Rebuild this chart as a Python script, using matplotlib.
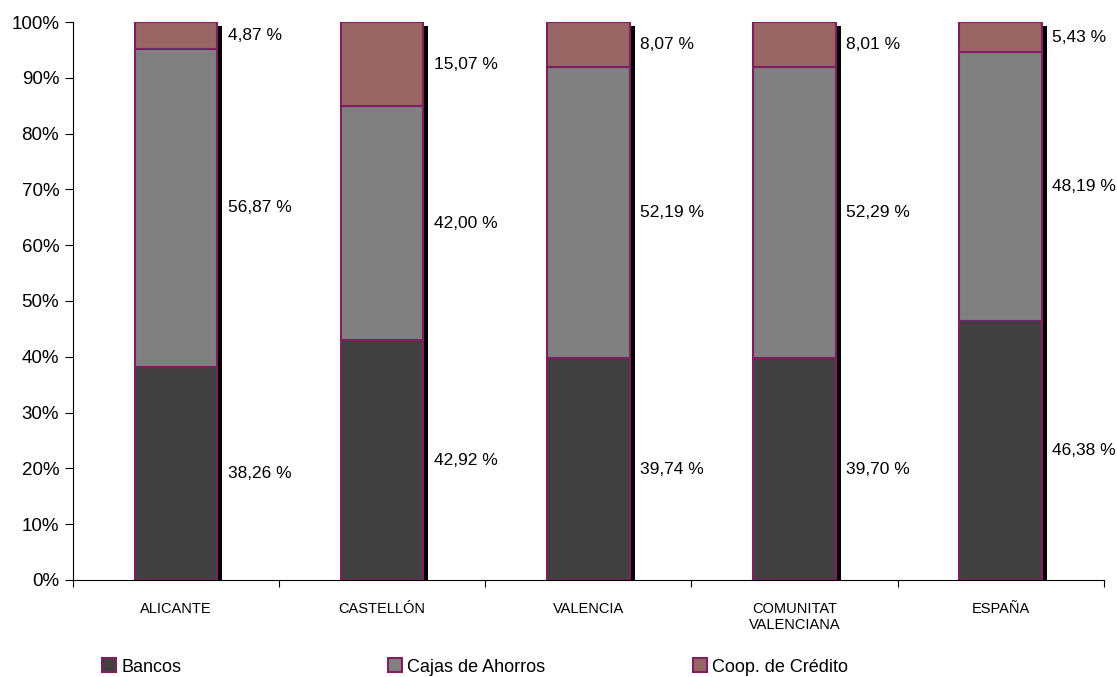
import numpy as np
import matplotlib.pyplot as plt
from matplotlib.patches import Patch
from matplotlib.ticker import FixedLocator, NullFormatter, FuncFormatter

plt.rcParams['font.family'] = ['Liberation Sans', 'DejaVu Sans']

categories = ['ALICANTE', 'CASTELLÓN', 'VALENCIA', 'COMUNITAT\nVALENCIANA', 'ESPAÑA']
series_names = ['Bancos', 'Cajas de Ahorros', 'Coop. de Crédito']
bancos = [38.26, 42.92, 39.74, 39.70, 46.38]
cajas = [56.87, 42.00, 52.19, 52.29, 48.19]
coop = [4.87, 15.07, 8.07, 8.01, 5.43]

colors = ['#404040', '#808080', '#996666']
edge = '#7f1f60'

fig = plt.figure(figsize=(11.17, 6.77), dpi=100)
ax = fig.add_axes([0.0654, 0.1433, 0.9227, 0.8242])

x = np.arange(len(categories))
width = 0.4

# shadow strip on the right of each bar
ax.bar(x + width / 2 + 0.012, 99.2, width=0.024, color='black', zorder=1)

bottom = np.zeros(len(categories))
for vals, name, col in zip([bancos, cajas, coop], series_names, colors):
    vals = np.array(vals)
    ax.bar(x, vals, width=width, bottom=bottom, color=col, edgecolor=edge,
           linewidth=1.5, label=name, zorder=2)
    for xi, b, v in zip(x, bottom, vals):
        ax.text(xi + width / 2 + 0.05, b + v / 2, f"{v:.2f} %".replace('.', ','),
                va='center', ha='left', fontsize=12.5)
    bottom += vals

ax.set_xlim(-0.5, 4.5)
ax.set_ylim(0, 100)
ax.set_yticks(np.arange(0, 101, 10))
ax.yaxis.set_major_formatter(FuncFormatter(lambda v, p: f"{int(v)}%"))
ax.tick_params(axis='y', labelsize=13.5, length=6, pad=4, direction='out')

ax.xaxis.set_major_locator(FixedLocator(np.arange(-0.5, 5, 1)))
ax.xaxis.set_major_formatter(NullFormatter())
ax.xaxis.set_minor_locator(FixedLocator(x))
ax.set_xticklabels(categories, minor=True)
ax.tick_params(axis='x', which='major', length=5, direction='out')
ax.tick_params(axis='x', which='minor', length=0, pad=16, labelsize=10.5)

for s in ['top', 'right']:
    ax.spines[s].set_visible(False)

# legend entries spread along the bottom, one legend per entry
legend_x = [0.0913, 0.347, 0.620]
for name, col, lx in zip(series_names, colors, legend_x):
    h = Patch(facecolor=col, edgecolor=edge, linewidth=1.5)
    fig.legend([h], [name], loc='center left', bbox_to_anchor=(lx, 0.0148),
               frameon=False, fontsize=13, handlelength=0.8, handleheight=0.8,
               handletextpad=0.3, borderpad=0, borderaxespad=0)

fig.savefig('out.png', dpi=100)
